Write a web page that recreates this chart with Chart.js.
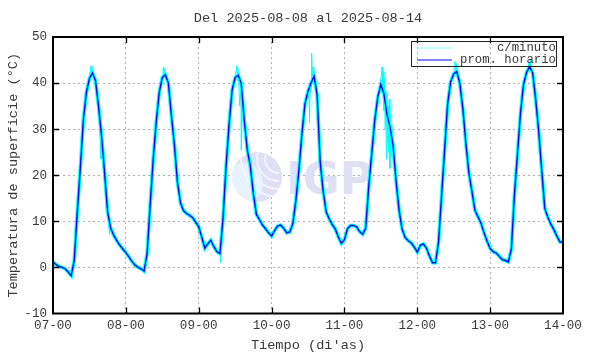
<!DOCTYPE html>
<html><head><meta charset="utf-8">
<script src="https://cdn.jsdelivr.net/npm/chart.js@4"></script>
<style>html,body{margin:0;padding:0;background:#fff;overflow:hidden}</style>
</head><body>
<canvas id="c" width="590" height="354"></canvas>
<script>
const titleText = 'Del 2025-08-08 al 2025-08-14';
const xTitle = "Tiempo (di'as)";
const yTitle = 'Temperatura de superficie (°C)';
const xTickLabels = ['07-00','08-00','09-00','10-00','11-00','12-00','13-00','14-00'];
const yTicks = [-10, 0, 10, 20, 30, 40, 50];
const seriesMinute = 'c/minuto';
const seriesHourly = 'prom. horario';

// hourly averages, one array per day (24 values each, hour 0..23)
const d07 = [1.2,0.6,0.2,0,-0.3,-1.0,-1.8,1.5,12,21.5,32,38,41,42.2,40.5,35,28.5,20.5,12,8.5,7,5.8,4.8,4.0];
const d08 = [3.2,2.3,1.3,0.5,0,-0.3,-0.8,3,13.5,23.3,31.5,38,41.2,41.8,40,33,26.5,18.5,14,12.3,11.7,11.3,10.8,9.8];
const d09 = [8.8,6.6,4.2,5.1,5.9,4.5,3.4,3.0,10.5,21.8,31,38.5,41.2,41.7,40,32,25.5,22,16,11.5,10.4,9.2,8.4,7.5];
const d10 = [6.8,8.0,9.0,9.2,8.5,7.5,7.7,9.5,14.5,21,29,35.5,38.2,40,41.5,37.5,23,16.5,12,10.5,9.3,8.3,6.6,5.2];
const d11 = [6.0,8.4,9.1,9.1,8.8,7.8,7.2,8.5,17.5,24.7,32,37,39.7,37.7,33.2,30.5,26.6,18.9,12.4,8.3,6.5,5.8,5.3,4.4];
const d12 = [3.3,4.8,5.1,4.2,2.5,1.0,1.0,5.5,15.5,25.5,35.5,40.3,42,42.5,40,34.5,27,20.5,16.5,12.4,11,9.6,7.5,5.7];
const d13 = [4.1,3.4,3.1,2.4,1.7,1.5,1.2,4,15.7,24.6,33.5,39.7,42.3,43.6,42.2,36.5,29.5,21,12.8,10.9,9.4,8.2,6.8,5.5];
const dEnd = [5.5];

// per-minute excursions (hours since start, value)
const spikeHours = [12.2,12.4,12.6,12.8,13.0,13.3,15.6,15.8,15.9,18.6,18.8,18.9,
  30.2,36.2,36.4,36.6,36.8,37.0,
  55.2,60.3,60.5,60.7,60.9,61.1,61.5,62.0,62.1,62.3,
  84.4,84.5,84.7,84.9,85.1,85.3,85.5,85.7,85.9,
  108.2,108.4,108.6,108.8,109.0,109.2,109.4,109.6,109.8,110.0,110.2,110.4,110.6,110.8,111.0,111.2,111.4,111.6,111.9,
  132.2,132.4,132.6,132.8,133.0,
  156.6,156.8,157.0,157.2,157.4];
const spikeTemps = [42.5,43.6,41.5,43.8,41.8,42.5,27,23.5,29,7.2,9.8,8.2,
  -1.3,42.2,43.5,41.5,43.2,42,
  1.0,42.8,43.8,40.5,43.2,41.5,35,29,25.5,34,
  36,31.5,40,38,44,46.5,40.5,43.5,40,
  42,43.5,38,42.5,34,41,30,38.5,23.5,38,27,35,25,36.5,21.5,33,24,31,28,
  43.5,44.8,42.5,44.2,42.8,
  43.5,44.5,42.8,45,43.5];

const hourly = [].concat(d07,d08,d09,d10,d11,d12,d13,dEnd);
const hourlyPts = hourly.map((v,i)=>({x:i/24, y:v}));
const minutePts = hourlyPts.concat(spikeHours.map((h,i)=>({x:h/24, y:spikeTemps[i]})))
  .sort((a,b)=>a.x-b.x);

const MONO = '"Liberation Mono", "DejaVu Sans Mono", monospace';
const CYAN = '#00ffff';
const BLUE = '#0a0af0';
const TXT = '#3a3a3a';

const decor = {
  id:'decor',
  beforeDatasetsDraw(chart){
    const ctx = chart.ctx;
    ctx.save();
    const cx=257, cy=177, r=25;
    ctx.beginPath(); ctx.arc(cx,cy,r,0,Math.PI*2); ctx.fillStyle='#e0e0f5'; ctx.fill();
    ctx.save();
    ctx.beginPath(); ctx.arc(cx,cy,r,0,Math.PI*2); ctx.clip();
    ctx.fillStyle='#e8f2ff';
    ctx.beginPath(); ctx.arc(cx-14,cy+6,20,0,Math.PI*2); ctx.fill();
    ctx.strokeStyle='#f6f8ff'; ctx.lineWidth=1.5;
    for(let k=0;k<4;k++){ ctx.beginPath(); ctx.arc(cx+22,cy-18,14+k*8,Math.PI*0.5,Math.PI*1.1); ctx.stroke(); }
    ctx.restore();
    ctx.fillStyle='#e0e0f5';
    ctx.font='bold 45px "DejaVu Sans", sans-serif';
    ctx.textBaseline='alphabetic'; ctx.textAlign='left';
    ctx.fillText('IGP',286,194);
    ctx.restore();
  },
  afterDatasetsDraw(chart){
    const ctx = chart.ctx, a = chart.chartArea;
    const xs = chart.scales.x, ys = chart.scales.y;
    ctx.save();
    ctx.strokeStyle='#000'; ctx.lineWidth=2;
    ctx.strokeRect(a.left,a.top,a.right-a.left,a.bottom-a.top);
    ctx.lineWidth=1.3;
    ctx.beginPath();
    for(let i=1;i<xTickLabels.length-1;i++){
      const px = Math.round(xs.getPixelForValue(i))+0.5;
      ctx.moveTo(px,a.bottom); ctx.lineTo(px,a.bottom-6);
      ctx.moveTo(px,a.top); ctx.lineTo(px,a.top+6);
    }
    for(let i=1;i<yTicks.length-1;i++){
      const py = Math.round(ys.getPixelForValue(yTicks[i]))+0.5;
      ctx.moveTo(a.left,py); ctx.lineTo(a.left+6,py);
      ctx.moveTo(a.right,py); ctx.lineTo(a.right-6,py);
    }
    ctx.stroke();
    const bx=411.5, by=41.5, bw=145, bh=25;
    ctx.strokeStyle='#222'; ctx.lineWidth=1;
    ctx.strokeRect(bx,by,bw,bh);
    ctx.font='12.3px '+MONO; ctx.textAlign='right'; ctx.textBaseline='middle';
    ctx.fillStyle=TXT;
    ctx.strokeStyle='#80ffff'; ctx.lineWidth=1;
    ctx.beginPath(); ctx.moveTo(417,48); ctx.lineTo(452,48); ctx.stroke();
    ctx.fillText(seriesMinute,556,48);
    ctx.strokeStyle=BLUE; ctx.lineWidth=1.2;
    ctx.beginPath(); ctx.moveTo(417,60); ctx.lineTo(452,60); ctx.stroke();
    ctx.fillText(seriesHourly,556,60);
    ctx.font='13.6px '+MONO; ctx.textAlign='center'; ctx.fillStyle=TXT;
    ctx.fillText(titleText,(a.left+a.right)/2,18);
    ctx.restore();
  }
};

new Chart(document.getElementById('c'), {
  type:'line',
  data:{datasets:[
    {label:seriesMinute, data:hourlyPts, borderColor:CYAN, borderWidth:3.6, pointRadius:0, tension:0, order:3},
    {label:seriesMinute, data:minutePts, borderColor:CYAN, borderWidth:1, pointRadius:0, tension:0, order:2},
    {label:seriesHourly, data:hourlyPts, borderColor:BLUE, borderWidth:1.4, pointRadius:0, tension:0, order:1}
  ]},
  options:{
    responsive:false, animation:false, devicePixelRatio:1,
    layout:{padding:{top:37,right:27,left:0,bottom:0}},
    plugins:{legend:{display:false}, tooltip:{enabled:false}, title:{display:false}},
    scales:{
      x:{type:'linear', min:0, max:7,
        afterFit(s){ s.height = 40.5; },
        afterBuildTicks(s){ s.ticks = xTickLabels.map((_,i)=>({value:i})); },
        ticks:{padding:5, color:TXT, font:{family:MONO, size:12.6}, maxRotation:0,
          callback:(v)=>xTickLabels[v]},
        grid:{color:'#b0b0b0', lineWidth:1, drawTicks:false},
        border:{display:false, dash:[2,3]},
        title:{display:true, text:xTitle, color:TXT, font:{family:MONO, size:13.6}, padding:{top:0,bottom:0}}
      },
      y:{min:-10, max:50,
        afterFit(s){ s.width = 53; },
        afterBuildTicks(s){ s.ticks = yTicks.map(v=>({value:v})); },
        ticks:{padding:6, color:TXT, font:{family:MONO, size:12.6}},
        grid:{color:'#b0b0b0', lineWidth:1, drawTicks:false},
        border:{display:false, dash:[2,3]},
        title:{display:true, text:yTitle, color:TXT, font:{family:MONO, size:13.6}, padding:{top:5,bottom:0}}
      }
    }
  },
  plugins:[decor]
});
</script>
</body></html>
